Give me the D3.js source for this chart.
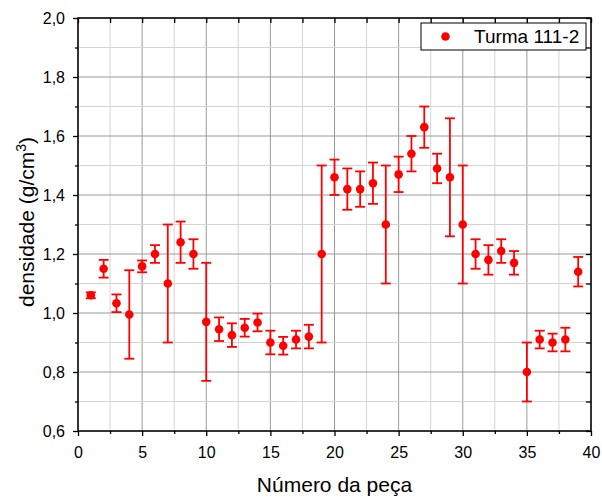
<!DOCTYPE html>
<html><head><meta charset="utf-8">
<script src="https://cdn.jsdelivr.net/npm/d3@7"></script>
<style>body{margin:0;background:#fff}svg{display:block}text{font-family:"Liberation Sans",Arial,sans-serif}</style>
</head><body><svg id="c" width="602" height="500"></svg>
<script>
const pieces = [1,2,3,4,5,6,7,8,9,10,11,12,13,14,15,16,17,18,19,20,21,22,23,24,25,26,27,28,29,30,31,32,33,34,35,36,37,38,39];
const density = [1.06,1.15,1.033,0.995,1.158,1.20,1.10,1.24,1.20,0.97,0.945,0.925,0.95,0.968,0.90,0.889,0.91,0.92,1.20,1.46,1.42,1.42,1.44,1.30,1.47,1.54,1.63,1.49,1.46,1.30,1.20,1.18,1.21,1.17,0.80,0.91,0.90,0.91,1.14];
const errors = [0.01,0.03,0.03,0.15,0.02,0.03,0.20,0.07,0.05,0.20,0.04,0.04,0.03,0.03,0.04,0.03,0.03,0.04,0.30,0.06,0.07,0.06,0.07,0.20,0.06,0.06,0.07,0.05,0.20,0.20,0.05,0.05,0.04,0.04,0.10,0.03,0.03,0.04,0.05];
const xTicks = [0,5,10,15,20,25,30,35,40];
const yTicks = [0.6,0.8,1.0,1.2,1.4,1.6,1.8,2.0];
const seriesName = "Turma 111-2";

const svg = d3.select("#c");
const L=78,R=591,T=18,B=431;
const x = d3.scaleLinear().domain([0,40]).range([L,R]);
const y = d3.scaleLinear().domain([0.6,2.0]).range([B,T]);
const fmt = d => d3.format(".1f")(d).replace(".",",");

const xMinor = d3.range(0,40.01,2.5);
const yMinor = d3.range(0,15).map(i=>+(0.6+i*0.1).toFixed(1));

// grid
const g = svg.append("g");
xMinor.forEach(v=>{ const major = v%5===0;
  g.append("line").attr("x1",x(v)).attr("x2",x(v)).attr("y1",T).attr("y2",B)
   .attr("stroke",major?"#9a9a9a":"#d4d4d4").attr("stroke-width",1);});
yMinor.forEach((v,i)=>{ const major = i%2===0;
  g.append("line").attr("y1",y(v)).attr("y2",y(v)).attr("x1",L).attr("x2",R)
   .attr("stroke",major?"#9a9a9a":"#d4d4d4").attr("stroke-width",1);});

// axes
const axB = d3.axisBottom(x).tickValues(xTicks).tickFormat(d=>d).tickSize(5).tickPadding(11);
svg.append("g").attr("transform",`translate(0,${B})`).call(axB);
svg.append("g").attr("transform",`translate(0,${B})`).call(d3.axisBottom(x).tickValues(xMinor.filter(v=>v%5!==0)).tickFormat("").tickSize(3));
const axL = d3.axisLeft(y).tickValues(yTicks).tickFormat(fmt).tickSize(5).tickPadding(8);
svg.append("g").attr("transform",`translate(${L},0)`).call(axL);
svg.append("g").attr("transform",`translate(${L},0)`).call(d3.axisLeft(y).tickValues(yMinor.filter((v,i)=>i%2===1)).tickFormat("").tickSize(3));
svg.append("g").attr("transform",`translate(0,${T})`).call(d3.axisBottom(x).tickValues(xMinor).tickFormat("").tickSize(5));
svg.append("g").attr("transform",`translate(${R},0)`).call(d3.axisLeft(y).tickValues(yMinor).tickFormat("").tickSize(5));
svg.selectAll(".domain").remove();
svg.selectAll(".tick line").attr("stroke","#000").attr("stroke-width",1.3);
svg.selectAll(".tick text").attr("font-size",16).attr("fill","#000").attr("font-family","Liberation Sans, Arial, sans-serif");
svg.append("rect").attr("x",L).attr("y",T).attr("width",R-L).attr("height",B-T)
  .attr("fill","none").attr("stroke","#000").attr("stroke-width",1.5);

// data
const data = pieces.map((p,i)=>({p,v:density[i],e:errors[i]}));
const red = "#ff0000";
const eb = svg.append("g").attr("stroke",red).attr("stroke-width",1.8);
data.forEach(d=>{
  eb.append("line").attr("x1",x(d.p)).attr("x2",x(d.p)).attr("y1",y(d.v+d.e)).attr("y2",y(d.v-d.e));
  [d.v+d.e,d.v-d.e].forEach(w=>eb.append("line").attr("x1",x(d.p)-5).attr("x2",x(d.p)+5).attr("y1",y(w)).attr("y2",y(w)));
});
svg.append("g").selectAll("circle").data(data).join("circle")
  .attr("cx",d=>x(d.p)).attr("cy",d=>y(d.v)).attr("r",4.3).attr("fill",red);

// legend
svg.append("rect").attr("x",421).attr("y",23).attr("width",165).attr("height",27)
  .attr("fill","#fff").attr("stroke","#000").attr("stroke-width",1);
svg.append("circle").attr("cx",445.5).attr("cy",36.5).attr("r",4.3).attr("fill",red);
svg.append("text").attr("x",474).attr("y",43).attr("font-size",19).text(seriesName);

// titles
svg.append("text").attr("x",(L+R)/2).attr("y",492).attr("text-anchor","middle").attr("font-size",21).text("Número da peça");
const yt = svg.append("text").attr("transform",`translate(34,222) rotate(-90)`).attr("text-anchor","middle").attr("font-size",21);
yt.append("tspan").text("densidade (g/cm");
yt.append("tspan").attr("dy",-8).attr("font-size",14).text("3");
yt.append("tspan").attr("dy",8).text(")");
</script></body></html>
